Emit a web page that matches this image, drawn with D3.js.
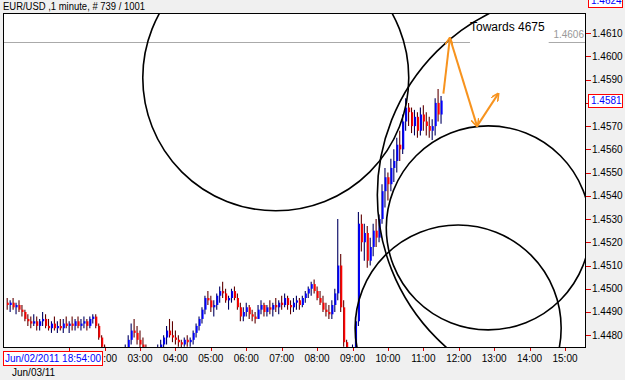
<!DOCTYPE html>
<html>
<head>
<meta charset="utf-8">
<script src="https://cdn.jsdelivr.net/npm/d3@7"></script>
<style>
body { margin: 0; background: #f0f0f0; }
svg { display: block; font-family: Arial, 'Liberation Sans', sans-serif; }
</style>
</head>
<body>
<div class="chart"></div>
<script>
//EUR/USD 1 minute, drawn as 5 minute bars. Times are minutes from Jun/03 00:00
const barTimes = [
    -45, -40, -35, -30, -25, -20, -15, -10, -5,
    0, 5, 10, 15, 20, 25, 30, 35, 40, 45, 50, 55,
    60, 65, 70, 75, 80, 85, 90, 95, 100, 105, 110, 115,
    120, 125, 130, 135, 140, 145, 150, 155, 160, 165, 170, 175,
    180, 185, 190, 195, 200, 205, 210, 215, 220, 225, 230, 235,
    240, 245, 250, 255, 260, 265, 270, 275, 280, 285, 290, 295,
    300, 305, 310, 315, 320, 325, 330, 335, 340, 345, 350, 355,
    360, 365, 370, 375, 380, 385, 390, 395, 400, 405, 410, 415,
    420, 425, 430, 435, 440, 445, 450, 455, 460, 465, 470, 475,
    480, 485, 490, 495, 500, 505, 510, 515, 520, 525, 530, 535,
    540, 545, 550, 555, 560, 565, 570, 575, 580, 585, 590, 595,
    600, 605, 610, 615, 620, 625, 630, 635, 640, 645, 650, 655,
    660, 665, 670, 675, 680, 685, 690
];

const highs = [
    1.4496, 1.4495, 1.4496, 1.4494, 1.4495, 1.4493, 1.4491, 1.4489, 1.4488,
    1.4489, 1.4488, 1.4487, 1.4490, 1.4489, 1.4487, 1.4486, 1.4488, 1.4486, 1.4487, 1.4487, 1.4488,
    1.4486, 1.4488, 1.4487, 1.4488, 1.4487, 1.4488, 1.4487, 1.4488, 1.4489, 1.4489, 1.4485, 1.4480,
    1.4476, 1.4473, 1.4472, 1.4471, 1.4472, 1.4473, 1.4474, 1.4476, 1.4480, 1.4485, 1.4487, 1.4484,
    1.4482, 1.4479, 1.4476, 1.4474, 1.4473, 1.4474, 1.4476, 1.4478, 1.4480, 1.4484, 1.4487, 1.4486,
    1.4482, 1.4480, 1.4478, 1.4479, 1.4480, 1.4479, 1.4482, 1.4485, 1.4488, 1.4492, 1.4497, 1.4499,
    1.4497, 1.4495, 1.4498, 1.4501, 1.4503, 1.4500, 1.4497, 1.4500, 1.4501, 1.4498, 1.4494, 1.4492,
    1.4494, 1.4493, 1.4491, 1.4490, 1.4493, 1.4495, 1.4494, 1.4493, 1.4495, 1.4494, 1.4496, 1.4495,
    1.4497, 1.4498, 1.4497, 1.4495, 1.4496, 1.4497, 1.4496, 1.4497, 1.4499, 1.4501, 1.4503, 1.4504,
    1.4501, 1.4499, 1.4497, 1.4494, 1.4493, 1.4495, 1.4500, 1.4530, 1.4515, 1.4495, 1.4478, 1.4474,
    1.4476, 1.4488, 1.4533, 1.4532, 1.4528, 1.4527, 1.4522, 1.4528, 1.4530, 1.4532, 1.4545, 1.4552,
    1.4550, 1.4556, 1.4560, 1.4565, 1.4568, 1.4575, 1.4582, 1.4580, 1.4578, 1.4577, 1.4576, 1.4578,
    1.4579, 1.4576, 1.4574, 1.4573, 1.4582, 1.4586, 1.4583
];

const lows = [
    1.4491, 1.4490, 1.4491, 1.4489, 1.4490, 1.4488, 1.4486, 1.4484, 1.4483,
    1.4484, 1.4482, 1.4482, 1.4484, 1.4483, 1.4482, 1.4481, 1.4482, 1.4481, 1.4482, 1.4481, 1.4483,
    1.4481, 1.4482, 1.4482, 1.4483, 1.4482, 1.4483, 1.4482, 1.4483, 1.4485, 1.4483, 1.4478, 1.4474,
    1.4470, 1.4468, 1.4467, 1.4466, 1.4467, 1.4468, 1.4469, 1.4470, 1.4472, 1.4476, 1.4479, 1.4476,
    1.4474, 1.4472, 1.4470, 1.4469, 1.4468, 1.4469, 1.4470, 1.4472, 1.4474, 1.4476, 1.4479, 1.4477,
    1.4476, 1.4475, 1.4474, 1.4475, 1.4475, 1.4475, 1.4476, 1.4479, 1.4482, 1.4485, 1.4489, 1.4493,
    1.4490, 1.4488, 1.4491, 1.4494, 1.4496, 1.4494, 1.4491, 1.4494, 1.4495, 1.4491, 1.4486, 1.4486,
    1.4488, 1.4487, 1.4486, 1.4485, 1.4487, 1.4489, 1.4488, 1.4488, 1.4489, 1.4488, 1.4490, 1.4489,
    1.4491, 1.4492, 1.4491, 1.4489, 1.4490, 1.4491, 1.4491, 1.4492, 1.4494, 1.4496, 1.4497, 1.4498,
    1.4495, 1.4493, 1.4490, 1.4488, 1.4487, 1.4487, 1.4490, 1.4495, 1.4490, 1.4475, 1.4470, 1.4468,
    1.4469, 1.4472, 1.4484, 1.4516, 1.4512, 1.4509, 1.4510, 1.4514, 1.4518, 1.4520, 1.4528, 1.4535,
    1.4538, 1.4542, 1.4546, 1.4550, 1.4555, 1.4558, 1.4568, 1.4570, 1.4567, 1.4566, 1.4565, 1.4566,
    1.4568, 1.4566, 1.4565, 1.4564, 1.4566, 1.4572, 1.4571
];

const closes = [
    1.4493, 1.4494, 1.4492, 1.4493, 1.4491, 1.4490, 1.4487, 1.4486, 1.4485,
    1.4486, 1.4484, 1.4486, 1.4487, 1.4484, 1.4483, 1.4485, 1.4483, 1.4484, 1.4483, 1.4485, 1.4484,
    1.4485, 1.4484, 1.4486, 1.4484, 1.4485, 1.4486, 1.4484, 1.4487, 1.4488, 1.4484, 1.4479, 1.4475,
    1.4472, 1.4470, 1.4469, 1.4468, 1.4470, 1.4471, 1.4472, 1.4474, 1.4478, 1.4482, 1.4481, 1.4478,
    1.4476, 1.4474, 1.4472, 1.4471, 1.4470, 1.4472, 1.4474, 1.4476, 1.4479, 1.4482, 1.4480, 1.4479,
    1.4478, 1.4477, 1.4476, 1.4478, 1.4477, 1.4478, 1.4481, 1.4484, 1.4487, 1.4491, 1.4496, 1.4495,
    1.4492, 1.4493, 1.4497, 1.4499, 1.4498, 1.4495, 1.4496, 1.4499, 1.4496, 1.4492, 1.4488, 1.4490,
    1.4492, 1.4489, 1.4488, 1.4487, 1.4491, 1.4493, 1.4490, 1.4492, 1.4491, 1.4493, 1.4492, 1.4494,
    1.4493, 1.4496, 1.4493, 1.4492, 1.4494, 1.4495, 1.4493, 1.4496, 1.4498, 1.4500, 1.4502, 1.4499,
    1.4496, 1.4494, 1.4491, 1.4490, 1.4489, 1.4493, 1.4498, 1.4510, 1.4492, 1.4477, 1.4472, 1.4471,
    1.4474, 1.4486, 1.4528, 1.4520, 1.4524, 1.4512, 1.4518, 1.4525, 1.4522, 1.4530, 1.4542, 1.4548,
    1.4545, 1.4552, 1.4555, 1.4562, 1.4560, 1.4572, 1.4578, 1.4576, 1.4570, 1.4574, 1.4568, 1.4575,
    1.4572, 1.4570, 1.4568, 1.4570, 1.4580, 1.4575, 1.4581
];
const firstOpen = 1.4494;

//Axis values
const priceTicks = [1.4480, 1.4490, 1.4500, 1.4510, 1.4520, 1.4530, 1.4540, 1.4550, 1.4560, 1.4570, 1.4580, 1.4590, 1.4600, 1.4610];
const hourTicks = [60, 120, 180, 240, 300, 360, 420, 480, 540, 600, 660, 720, 780, 840, 900];
const hourLabels = ['01:00', '02:00', '03:00', '04:00', '05:00', '06:00', '07:00', '08:00', '09:00', '10:00', '11:00', '12:00', '13:00', '14:00', '15:00'];
const highPrice = 1.4624;
const levelPrice = 1.4606;

//Drawn objects: circles (centre time, centre price, radius in price) and the orange zigzag
const circleTimes = [410, 926, 770, 719];
const circlePrices = [1.45908, 1.45404, 1.45262, 1.44831];
const circleRadii = [0.005725, 0.008739, 0.00439, 0.004434];
const arrowTimes = [694, 705, 751, 787];
const arrowPrices = [1.4584, 1.4608, 1.4570, 1.4584];
const noteText = 'Towards 4675';
const noteTime = 739;
const notePrice = 1.4611;

const WIDTH = 625;
const HEIGHT = 380;
const LEFT = 3;
const TOP = 13;
const RIGHT = 586;
const BOTTOM = 348;
const DATEBOX = 99;

let bars = barTimes.map((t, i) => ({
    time: t,
    open: i == 0 ? firstOpen : closes[i - 1],
    high: highs[i],
    low: lows[i],
    close: closes[i]
}));

let xScale = d3.scaleLinear().domain([180, 900]).range([140, 565]);
let yScale = d3.scaleLinear().domain([1.4480, 1.4610]).range([335.2, 33.2]);

let svg = d3.select('.chart')
.append('svg')
.attr('width', WIDTH)
.attr('height', HEIGHT);

svg.append('rect')
.attr('width', WIDTH)
.attr('height', HEIGHT)
.style('fill', '#f0f0f0');

//Title
svg.append('text')
.attr('x', 3)
.attr('y', 10)
.attr('textLength', 142)
.attr('lengthAdjust', 'spacingAndGlyphs')
.style('font-size', '10px')
.style('fill', '#000')
.text('EUR/USD ,1 minute, # 739 / 1001');

//Chart area
svg.append('rect')
.attr('x', LEFT + 0.5)
.attr('y', TOP + 0.5)
.attr('width', RIGHT - LEFT - 1)
.attr('height', BOTTOM - TOP - 1)
.style('fill', '#fff');

let defs = svg.append('defs');

defs.append('clipPath')
.attr('id', 'plot')
.append('rect')
.attr('x', LEFT + 1)
.attr('y', TOP + 1)
.attr('width', RIGHT - LEFT - 2)
.attr('height', BOTTOM - TOP - 2);

//hour labels that sit under the date box are cut at its edge
defs.append('clipPath')
.attr('id', 'hours')
.append('rect')
.attr('x', LEFT + DATEBOX + 1)
.attr('y', BOTTOM)
.attr('width', WIDTH)
.attr('height', 20);

let plot = svg.append('g').attr('clip-path', 'url(#plot)');

//Note text, the level line stops where the text is
let note = svg.append('text')
.attr('x', xScale(noteTime))
.attr('y', yScale(notePrice))
.style('font-size', '12px')
.style('fill', '#000')
.text(noteText);
let noteEnd = xScale(noteTime) + note.node().getComputedTextLength() + 4;

plot.append('g')
.selectAll()
.data([[LEFT, xScale(noteTime)], [noteEnd, RIGHT - 1]])
.enter()
.append('line')
.attr('x1', d => d[0])
.attr('x2', d => d[1])
.attr('y1', Math.round(yScale(levelPrice)) + 0.5)
.attr('y2', Math.round(yScale(levelPrice)) + 0.5)
.style('stroke', '#aaa')
.style('stroke-width', 1);

svg.append('text')
.attr('x', RIGHT - 2)
.attr('y', yScale(levelPrice) - 4)
.attr('text-anchor', 'end')
.style('font-size', '10px')
.style('fill', '#999')
.text(levelPrice.toFixed(4));

//Bars
function barColour(d) {
    return d.close >= d.open ? '#0000ff' : '#ff0000';
}

plot.append('g')
.selectAll()
.data(bars)
.enter()
.append('line')
.attr('x1', d => xScale(d.time))
.attr('x2', d => xScale(d.time))
.attr('y1', d => yScale(d.high))
.attr('y2', d => yScale(d.low))
.style('stroke', d => d.close >= d.open ? '#000060' : '#600000')
.style('stroke-width', 1.1);

plot.append('g')
.selectAll()
.data(bars)
.enter()
.append('line')
.attr('x1', d => xScale(d.time) + 0.7)
.attr('x2', d => xScale(d.time) + 0.7)
.attr('y1', d => yScale(d.open))
.attr('y2', d => yScale(d.close))
.style('stroke', d => barColour(d))
.style('stroke-width', 1.8);

//Circles
plot.append('g')
.selectAll()
.data(circleTimes)
.enter()
.append('circle')
.attr('cx', d => xScale(d))
.attr('cy', (d, i) => yScale(circlePrices[i]))
.attr('r', (d, i) => yScale(circlePrices[i]) - yScale(circlePrices[i] + circleRadii[i]))
.style('fill', 'none')
.style('stroke', '#000')
.style('stroke-width', 1.6);

//Orange zigzag arrows
defs.append('marker')
.attr('id', 'head')
.attr('viewBox', '0 0 10 10')
.attr('refX', 9)
.attr('refY', 5)
.attr('markerWidth', 4)
.attr('markerHeight', 4)
.attr('orient', 'auto')
.append('path')
.attr('d', 'M0,0 L10,5 L0,10')
.style('fill', 'none')
.style('stroke', '#f7931e')
.style('stroke-width', 2);

plot.append('g')
.selectAll()
.data(arrowTimes.slice(1))
.enter()
.append('line')
.attr('x1', (d, i) => xScale(arrowTimes[i]))
.attr('y1', (d, i) => yScale(arrowPrices[i]))
.attr('x2', (d, i) => xScale(d))
.attr('y2', (d, i) => yScale(arrowPrices[i + 1]))
.attr('marker-end', 'url(#head)')
.style('stroke', '#f7931e')
.style('stroke-width', 2);

svg.append('rect')
.attr('x', LEFT + 0.5)
.attr('y', TOP + 0.5)
.attr('width', RIGHT - LEFT - 1)
.attr('height', BOTTOM - TOP - 1)
.style('fill', 'none')
.style('stroke', '#000')
.style('stroke-width', 1);

//Price axis
svg.append('g')
.selectAll()
.data(priceTicks)
.enter()
.append('line')
.attr('x1', RIGHT)
.attr('x2', RIGHT + 5)
.attr('y1', d => Math.round(yScale(d)) + 0.5)
.attr('y2', d => Math.round(yScale(d)) + 0.5)
.style('stroke', '#e00000');

svg.append('g')
.selectAll()
.data(priceTicks.filter(d => Math.abs(yScale(d) - yScale(closes[closes.length - 1])) > 8))
.enter()
.append('text')
.attr('x', RIGHT + 6)
.attr('y', d => yScale(d) + 3.5)
.style('font-size', '10px')
.style('fill', '#000')
.text(d => d.toFixed(4));

//Boxed price labels: top price and last close
svg.append('g')
.selectAll()
.data([highPrice, closes[closes.length - 1]])
.enter()
.append('rect')
.attr('x', RIGHT + 2.5)
.attr('y', d => Math.round(yScale(d)) - 6.5)
.attr('width', 34)
.attr('height', 13)
.style('fill', '#fff')
.style('stroke', '#ff0000');

svg.append('g')
.selectAll()
.data([highPrice, closes[closes.length - 1]])
.enter()
.append('text')
.attr('x', RIGHT + 5)
.attr('y', d => yScale(d) + 3.5)
.style('font-size', '10px')
.style('fill', '#0000ff')
.text(d => d.toFixed(4));

//Time axis
svg.append('g')
.selectAll()
.data(hourTicks)
.enter()
.append('line')
.attr('x1', d => Math.round(xScale(d)) + 0.5)
.attr('x2', d => Math.round(xScale(d)) + 0.5)
.attr('y1', BOTTOM)
.attr('y2', BOTTOM + 3)
.style('stroke', '#e00000');

svg.append('g')
.attr('clip-path', 'url(#hours)')
.selectAll()
.data(hourTicks.filter(d => xScale(d) + 14 > LEFT + DATEBOX))
.enter()
.append('text')
.attr('x', d => xScale(d))
.attr('y', BOTTOM + 14)
.attr('text-anchor', 'middle')
.style('font-size', '10px')
.style('fill', '#000')
.text(d => hourLabels[hourTicks.indexOf(d)]);

svg.append('rect')
.attr('x', LEFT + 0.5)
.attr('y', BOTTOM + 3.5)
.attr('width', DATEBOX)
.attr('height', 14)
.style('fill', '#fff')
.style('stroke', '#ff0000');

svg.append('text')
.attr('x', LEFT + 2)
.attr('y', BOTTOM + 14)
.style('font-size', '10px')
.style('fill', '#0000ff')
.text('Jun/02/2011 18:54:00');

svg.append('text')
.attr('x', 12)
.attr('y', BOTTOM + 28)
.style('font-size', '10px')
.style('fill', '#000')
.text('Jun/03/11');
</script>
</body>
</html>
